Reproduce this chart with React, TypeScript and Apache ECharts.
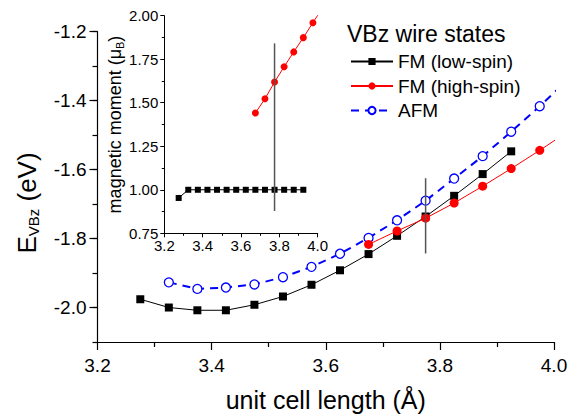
import React, { useEffect, useRef } from "react";
import * as echarts from "echarts";

// ---- data ----
const cellLength = [3.275, 3.325, 3.375, 3.425, 3.475, 3.525, 3.575, 3.625, 3.675, 3.725, 3.775, 3.825, 3.875, 3.925];
const fmLowSpinEnergy = [-1.976, -2.0, -2.008, -2.008, -1.992, -1.968, -1.934, -1.892, -1.845, -1.792, -1.736, -1.676, -1.613, -1.547];

const highSpinLength = [3.675, 3.725, 3.775, 3.825, 3.875, 3.925, 3.975, 4.025];
const fmHighSpinEnergy = [-1.817, -1.778, -1.741, -1.697, -1.648, -1.597, -1.544, -1.489];

const afmLength = [3.325, 3.375, 3.425, 3.475, 3.525, 3.575, 3.625, 3.675, 3.725, 3.775, 3.825, 3.875, 3.925, 3.975, 4.025];
const afmEnergy = [-1.927, -1.946, -1.942, -1.933, -1.912, -1.882, -1.844, -1.798, -1.747, -1.69, -1.626, -1.561, -1.49, -1.416, -1.338];

const lowSpinMoment = [0.953, 1.0, 1.0, 1.0, 1.0, 1.0, 1.0, 1.0, 1.0, 1.0, 1.0, 1.0, 1.0, 1.0];
const highSpinMoment = [1.441, 1.523, 1.619, 1.707, 1.792, 1.874, 1.96, 2.045];

const markerLength = 3.775;
const mainMarkerEnergy = [-1.625, -1.843];
const insetMarkerMoment = [0.878, 1.841];

const mainYTicks = [-2.0, -1.8, -1.6, -1.4, -1.2];

const seriesNames = ["FM (low-spin)", "FM (high-spin)", "AFM"];

const FONT = "'Liberation Sans', Arial, sans-serif";

const zip = (xs: number[], ys: number[]) => xs.map((x, i) => [x, ys[i]]);

export default function App() {
  const ref = useRef<HTMLDivElement>(null);

  useEffect(() => {
    if (!ref.current) return;
    const chart = echarts.init(ref.current, undefined, { renderer: "svg" });

    const option: any = {
      animation: false,
      backgroundColor: "#ffffff",
      textStyle: { fontFamily: FONT, color: "#000" },
      grid: [
        { left: 97.5, right: 17, top: 31.7, bottom: 65.3 },
        { left: 164.3, right: 253.3, top: 15.7, bottom: 183.7 },
      ],
      xAxis: [
        {
          type: "value",
          gridIndex: 0,
          min: 3.2,
          max: 4.0,
          interval: 0.2,
          name: "unit cell length (Å)",
          nameLocation: "middle",
          nameGap: 45,
          nameTextStyle: { fontSize: 25, color: "#000", fontFamily: FONT },
          axisLine: { lineStyle: { color: "#000", width: 1.2 } },
          axisTick: { inside: false, length: 8, lineStyle: { color: "#000", width: 1.2 } },
          minorTick: { show: true, splitNumber: 2, length: 5, lineStyle: { color: "#000", width: 1.2 } },
          axisLabel: { fontSize: 19, color: "#000", margin: 14, formatter: (v: number) => v.toFixed(1) },
          splitLine: { show: false },
          minorSplitLine: { show: false },
        },
        {
          type: "value",
          gridIndex: 1,
          min: 3.2,
          max: 4.0,
          interval: 0.2,
          axisLine: { lineStyle: { color: "#000", width: 1 } },
          axisTick: { inside: false, length: 4, lineStyle: { color: "#000", width: 1 } },
          minorTick: { show: true, splitNumber: 2, length: 2.5, lineStyle: { color: "#000", width: 1 } },
          axisLabel: { fontSize: 15, color: "#000", margin: 5, formatter: (v: number) => v.toFixed(1) },
          splitLine: { show: false },
        },
      ],
      yAxis: [
        {
          type: "value",
          gridIndex: 0,
          min: -2.1,
          max: -1.2,
          interval: 0.1,
          axisLine: { show: true, lineStyle: { color: "#000", width: 1.2 } },
          axisTick: { show: true, inside: false, length: 5, lineStyle: { color: "#000", width: 1.2 } },
          axisLabel: { show: false },
          splitLine: { show: false },
        },
        {
          type: "value",
          gridIndex: 0,
          position: "left",
          min: -2.1,
          max: -1.2,
          axisLine: { show: false },
          axisTick: { show: true, inside: false, length: 8, customValues: mainYTicks, lineStyle: { color: "#000", width: 1.2 } },
          axisLabel: { fontSize: 19, color: "#000", margin: 11, customValues: mainYTicks, formatter: (v: number) => v.toFixed(1) },
          splitLine: { show: false },
        },
        {
          type: "value",
          gridIndex: 1,
          min: 0.75,
          max: 2.0,
          interval: 0.25,
          name: "{a|magnetic moment (μ}{b|B}{a|)}",
          nameLocation: "middle",
          nameGap: 37,
          nameRotate: 90,
          nameTextStyle: {
            rich: {
              a: { fontSize: 18, fontFamily: FONT, color: "#000", lineHeight: 20 },
              b: { fontSize: 11, fontFamily: FONT, color: "#000", lineHeight: 8, verticalAlign: "bottom" },
            },
          },
          axisLine: { show: true, lineStyle: { color: "#000", width: 1 } },
          axisTick: { show: true, inside: false, length: 4, lineStyle: { color: "#000", width: 1 } },
          minorTick: { show: true, splitNumber: 2, length: 2.5, lineStyle: { color: "#000", width: 1 } },
          axisLabel: { fontSize: 15, color: "#000", margin: 6, formatter: (v: number) => v.toFixed(2) },
          splitLine: { show: false },
        },
      ],
      legend: {
        data: seriesNames,
        orient: "vertical",
        left: 345,
        top: 47,
        itemWidth: 42,
        itemHeight: 9,
        itemGap: 5.5,
        textStyle: { fontSize: 19, color: "#000", fontFamily: FONT, lineHeight: 19, padding: [0, 0, 0, 0] },
        selectedMode: false,
      },
      graphic: [
        {
          type: "text",
          left: 347,
          top: 22,
          style: { text: "VBz wire states", font: `23px ${FONT}`, fill: "#000" },
        },
        {
          type: "text",
          x: 27,
          y: 203,
          rotation: Math.PI / 2,
          style: {
            text: "{a|E}{b|VBz}{a| (eV)}",
            align: "center",
            verticalAlign: "middle",
            rich: {
              a: { fontSize: 26, fontFamily: FONT, fill: "#000", lineHeight: 28 },
              b: { fontSize: 15, fontFamily: FONT, fill: "#000", lineHeight: 12, verticalAlign: "bottom" },
            },
          },
        },
      ],
      series: [
        {
          name: seriesNames[0],
          type: "line",
          xAxisIndex: 0,
          yAxisIndex: 0,
          data: zip(cellLength, fmLowSpinEnergy),
          symbol: "rect",
          symbolSize: 8,
          itemStyle: { color: "#000" },
          lineStyle: { color: "#000", width: 1 },
          z: 3,
        },
        {
          name: seriesNames[1],
          type: "line",
          xAxisIndex: 0,
          yAxisIndex: 0,
          data: zip(highSpinLength, fmHighSpinEnergy),
          symbol: "circle",
          symbolSize: 9,
          itemStyle: { color: "#ff0000" },
          lineStyle: { color: "#ff0000", width: 1 },
          z: 4,
        },
        {
          name: seriesNames[2],
          type: "line",
          xAxisIndex: 0,
          yAxisIndex: 0,
          data: zip(afmLength, afmEnergy),
          symbol: "circle",
          symbolSize: 9,
          itemStyle: { color: "#ffffff", borderColor: "#0000ff", borderWidth: 1.3 },
          lineStyle: { color: "#0000ff", width: 2, type: [8, 6] },
          z: 2,
        },
        {
          name: "main-marker",
          type: "line",
          xAxisIndex: 0,
          yAxisIndex: 0,
          data: zip([markerLength, markerLength], mainMarkerEnergy),
          symbol: "none",
          silent: true,
          lineStyle: { color: "#555555", width: 1.5 },
          z: 5,
        },
        {
          name: "moment-low",
          type: "line",
          xAxisIndex: 1,
          yAxisIndex: 2,
          data: zip(cellLength, lowSpinMoment),
          symbol: "rect",
          symbolSize: 6,
          itemStyle: { color: "#000" },
          lineStyle: { color: "#000", width: 1 },
          z: 3,
        },
        {
          name: "moment-high",
          type: "line",
          xAxisIndex: 1,
          yAxisIndex: 2,
          data: zip(highSpinLength, highSpinMoment),
          symbol: "circle",
          symbolSize: 7,
          itemStyle: { color: "#ff0000" },
          lineStyle: { color: "#ff0000", width: 1 },
          z: 3,
        },
        {
          name: "inset-marker",
          type: "line",
          xAxisIndex: 1,
          yAxisIndex: 2,
          data: zip([markerLength, markerLength], insetMarkerMoment),
          symbol: "none",
          silent: true,
          lineStyle: { color: "#555555", width: 1.5 },
          z: 5,
        },
      ],
    };

    chart.setOption(option);
    return () => chart.dispose();
  }, []);

  return <div ref={ref} style={{ width: 571, height: 417, position: "absolute", left: 0, top: 0 }} />;
}
